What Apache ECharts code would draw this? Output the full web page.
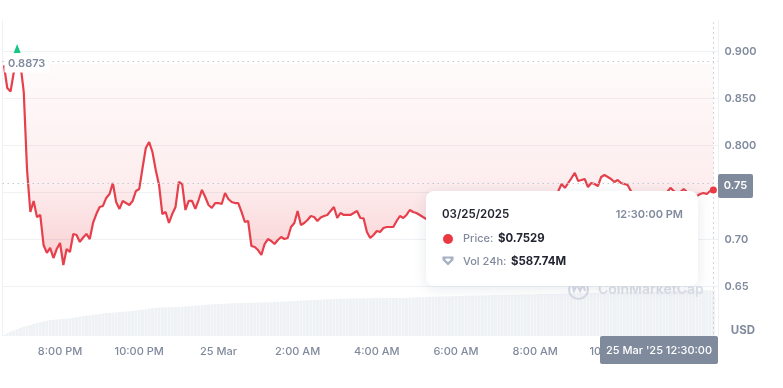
<!DOCTYPE html>
<html>
<head>
<meta charset="utf-8">
<style>html,body{margin:0;padding:0;background:#fff}#c{width:783px;height:388px}</style>
<script src="https://cdn.jsdelivr.net/npm/echarts@6/dist/echarts.min.js"></script>
</head>
<body>
<div id="c"></div>
<script>
var startMinute = 1115; // 18:35 on 24 Mar, minutes since midnight
var stepMinutes = 5;
var prices = [
.8855,.8614,.8577,.8784,.8873,.8869,.8571,.7741,.7295,.7412,
.7241,.7263,.6944,.6859,.6912,.6805,.6901,.6965,.6731,.6901,
.6869,.7061,.7050,.6976,.7023,.7061,.7007,.7178,.7273,.7348,
.7359,.7444,.7486,.7603,.7401,.7327,.7412,.7390,.7369,.7412,
.7518,.7539,.7763,.7976,.8039,.7933,.7741,.7582,.7273,.7295,
.7178,.7273,.7348,.7614,.7593,.7316,.7412,.7412,.7327,.7422,
.7529,.7454,.7369,.7337,.7390,.7390,.7380,.7497,.7433,.7401,
.7390,.7390,.7295,.7188,.7199,.6933,.6922,.6890,.6837,.6954,
.7007,.6986,.6954,.6997,.7029,.7007,.7018,.7135,.7178,.7306,
.7156,.7178,.7210,.7252,.7241,.7199,.7236,.7252,.7263,.7306,
.7348,.7231,.7284,.7263,.7263,.7263,.7284,.7306,.7231,.7226,
.7082,.7018,.7050,.7093,.7082,.7124,.7135,.7135,.7135,.7199,
.7252,.7231,.7263,.7316,.7295,.7284,.7263,.7241,.7220,.7199,
.7178,.7210,.7241,.7263,.7231,.7199,.7220,.7252,.7284,.7263,
.7231,.7252,.7295,.7306,.7273,.7241,.7263,.7295,.7316,.7284,
.7252,.7273,.7306,.7327,.7295,.7263,.7284,.7316,.7337,.7306,
.7284,.7316,.7348,.7327,.7358,.7390,.7433,.7465,.7518,.7593,
.7551,.7603,.7656,.7710,.7625,.7635,.7646,.7561,.7603,.7593,
.7571,.7667,.7688,.7667,.7646,.7614,.7635,.7603,.7593,.7582,
.7518,.7486,.7465,.7475,.7454,.7465,.7486,.7475,.7454,.7475,
.7497,.7507,.7551,.7518,.7497,.7507,.7539,.7507,.7486,.7476,
.7465,.7486,.7497,.7486,.7518,.7529];
var volumes = [
14,34,55,72,90,106,118,130,142,154,
165,175,186,195,205,208,212,215,218,221,
227,233,240,247,254,260,266,272,277,283,
288,294,297,300,303,306,310,313,317,320,
326,332,338,344,350,356,362,364,366,367,
369,370,372,373,375,379,382,386,389,393,
396,400,403,406,408,410,412,414,416,418,
420,422,423,424,425,426,427,428,429,430,
431,433,435,437,439,441,443,445,447,450,
452,454,456,458,461,463,465,467,470,472,
474,475,476,477,478,479,480,481,482,483,
483,484,484,485,485,485,486,486,487,487,
487,489,490,492,493,495,497,498,500,502,
503,504,505,506,507,508,510,511,512,513,
514,515,516,517,518,519,520,521,523,524,
525,526,527,528,528,529,530,531,532,533,
533,534,535,536,537,537,538,539,540,541,
542,543,544,545,546,547,548,549,550,552,
553,554,555,556,557,558,559,560,561,562,
563,564,565,566,567,568,569,570,571,572,
573,574,575,576,577,578,579,580,581,582,
583,584,585,586,587,587.74];
var xTickMinutes = [1200,1320,1440,1560,1680,1800,1920,2040];
var xTickLabels = ['8:00 PM','10:00 PM','25 Mar','2:00 AM','4:00 AM','6:00 AM','8:00 AM','10:00 AM'];
var yTickValues = [0.65,0.70,0.80,0.85,0.90];
var yTickLabels = ['0.65','0.70','0.800','0.850','0.900'];
var highPrice = 0.8873;
var refPrice = 0.7577;

var RED='#e5404c', GREY='#808a9d', DARK='#222531', GRID='#eff2f5', FONT='Inter, "Noto Sans", sans-serif';
var times = prices.map(function(_, i){ return startMinute + i*stepMinutes; });
var priceData = prices.map(function(p,i){ return [times[i],p]; });
var volData = volumes.map(function(v,i){ return [times[i],v]; });
var lastTime = times[times.length-1], lastPrice = prices[prices.length-1];
var xMin = 1112.8, xMax = 2197;
function dotted(){ return {type:[1.5,3.5],color:'#c3c9d3',width:1}; }

var chart = echarts.init(document.getElementById('c'),null,{renderer:'canvas'});
chart.setOption({
  animation:false,
  backgroundColor:'#fff',
  grid:[
    {left:2.5,right:65,top:20,bottom:54.3},
    {left:2.5,right:65,top:280,bottom:52}
  ],
  xAxis:[
    {type:'value',gridIndex:0,min:xMin,max:xMax,axisLine:{show:false},axisTick:{show:false},axisLabel:{show:false},splitLine:{show:false}},
    {type:'value',gridIndex:1,min:xMin,max:xMax,axisLine:{show:false},axisTick:{show:false},splitLine:{show:false},
     axisLabel:{customValues:xTickMinutes,margin:10,color:GREY,fontFamily:FONT,fontSize:11,fontWeight:500,
       formatter:function(v){var i=xTickMinutes.indexOf(v);return i<0?'':xTickLabels[i];}}}
  ],
  yAxis:[
    {type:'value',gridIndex:0,position:'right',min:0.6,max:0.9337,interval:0.05,
     axisLine:{show:true,lineStyle:{color:GRID}},axisTick:{show:false},
     splitLine:{show:true,showMinLine:false,showMaxLine:false,lineStyle:{color:GRID}},
     axisLabel:{customValues:yTickValues,margin:6.5,color:GREY,fontFamily:FONT,fontSize:11,fontWeight:600,
       formatter:function(v){var i=yTickValues.indexOf(v);return i<0?'':yTickLabels[i];}}},
    {type:'value',gridIndex:1,position:'right',min:0,max:717,axisLine:{show:true,lineStyle:{color:GRID}},axisTick:{show:false},axisLabel:{show:false},splitLine:{show:false}}
  ],
  series:[
    {type:'bar',xAxisIndex:1,yAxisIndex:1,data:volData,barWidth:3,itemStyle:{color:'#eff2f5'},silent:true,z:1},
    {type:'line',xAxisIndex:0,yAxisIndex:0,data:priceData,symbol:'none',smooth:false,z:3,
     lineStyle:{color:RED,width:2.2},
     areaStyle:{origin:highPrice,color:new echarts.graphic.LinearGradient(0,0,0,1,[
       {offset:0,color:'rgba(234,57,67,0.03)'},
       {offset:0.6,color:'rgba(234,57,67,0.13)'},
       {offset:1,color:'rgba(234,57,67,0.34)'}])},
     markLine:{silent:true,symbol:'none',label:{show:false},
       data:[
        {yAxis:highPrice,lineStyle:dotted()},
        {yAxis:refPrice,lineStyle:dotted()},
        {xAxis:lastTime,lineStyle:dotted()}
       ]},
     markPoint:{silent:true,data:[
       {coord:[lastTime,lastPrice],symbol:'circle',symbolSize:7,itemStyle:{color:'#ea3943'},label:{show:false}},
       {coord:[1135,0.9035],symbol:'triangle',symbolSize:[7,9],itemStyle:{color:'#16c784'},label:{show:false}},
       {coord:[1135,highPrice],symbol:'circle',symbolSize:1,itemStyle:{color:'rgba(0,0,0,0)'},
        label:{show:true,position:'inside',offset:[9.5,0.5],formatter:'0.8873',color:GREY,fontFamily:FONT,fontSize:11,fontWeight:600,
          backgroundColor:'#fff',padding:[3,3.5]}}
     ]}}
  ],
  graphic:[
    {type:'line',silent:true,z:0,shape:{x1:2.5,y1:20,x2:2.5,y2:336},style:{stroke:GRID,lineWidth:1}},
    // watermark
    {type:'circle',silent:true,z:5,shape:{cx:578.5,cy:289.5,r:9.5},style:{fill:'none',stroke:'#d5dae5',lineWidth:2}},
    {type:'polyline',silent:true,z:5,shape:{points:[[572,283],[574,291],[577,284],[580,291],[583,284],[585,291]]},style:{fill:'none',stroke:'#d5dae5',lineWidth:2}},
    {type:'text',silent:true,z:5,style:{x:598,y:290,text:'CoinMarketCap',fill:'#dbdfe8',font:'600 14px '+FONT,textVerticalAlign:'middle'}},
    // price box and time box
    {type:'rect',silent:true,z:20,shape:{x:718,y:174,width:35,height:24,r:2},style:{fill:GREY}},
    {type:'text',silent:true,z:21,style:{x:735.5,y:186,text:'0.75',fill:'#fff',font:'600 11px '+FONT,textAlign:'center',textVerticalAlign:'middle'}},
    {type:'rect',silent:true,z:20,shape:{x:600,y:336,width:118,height:28,r:2},style:{fill:GREY}},
    {type:'text',silent:true,z:21,style:{x:659,y:350.5,text:"25 Mar '25 12:30:00",fill:'#fff',font:'500 11px '+FONT,textAlign:'center',textVerticalAlign:'middle'}},
    {type:'text',silent:true,z:21,style:{x:743,y:331,text:'USD',fill:GREY,font:'700 11.5px '+FONT,textAlign:'center',textVerticalAlign:'middle'}},
    // tooltip card
    {type:'rect',silent:true,z:30,shape:{x:426,y:191,width:272,height:95,r:8},style:{fill:'#fff',shadowBlur:14,shadowColor:'rgba(88,102,126,0.14)',shadowOffsetY:2}},
    {type:'text',silent:true,z:31,style:{x:442,y:214.5,text:'03/25/2025',fill:DARK,font:'600 11.5px '+FONT,textVerticalAlign:'middle'}},
    {type:'text',silent:true,z:31,style:{x:683,y:214.5,text:'12:30:00 PM',fill:GREY,font:'600 11px '+FONT,textAlign:'right',textVerticalAlign:'middle'}},
    {type:'circle',silent:true,z:31,shape:{cx:448,cy:239,r:5},style:{fill:'#ea3943'}},
    {type:'text',silent:true,z:31,style:{x:463,y:239,text:'Price:',fill:GREY,font:'500 11px '+FONT,textVerticalAlign:'middle'}},
    {type:'text',silent:true,z:31,style:{x:498,y:239,text:'$0.7529',fill:DARK,font:'700 11.4px '+FONT,textVerticalAlign:'middle'}},
    {type:'polygon',silent:true,z:31,shape:{points:[[442.5,256.5],[453.5,256.5],[453.5,260],[448,265.5],[442.5,260]]},style:{fill:'#a6b0c3'}},
    {type:'polygon',silent:true,z:31,shape:{points:[[445.5,258.5],[450.5,258.5],[450.5,260],[448,262],[445.5,260]]},style:{fill:'#fff'}},
    {type:'text',silent:true,z:31,style:{x:463,y:261.5,text:'Vol 24h:',fill:GREY,font:'500 11px '+FONT,textVerticalAlign:'middle'}},
    {type:'text',silent:true,z:31,style:{x:511,y:261.5,text:'$587.74M',fill:DARK,font:'700 11.4px '+FONT,textVerticalAlign:'middle'}}
  ]
});
</script>
</body>
</html>
